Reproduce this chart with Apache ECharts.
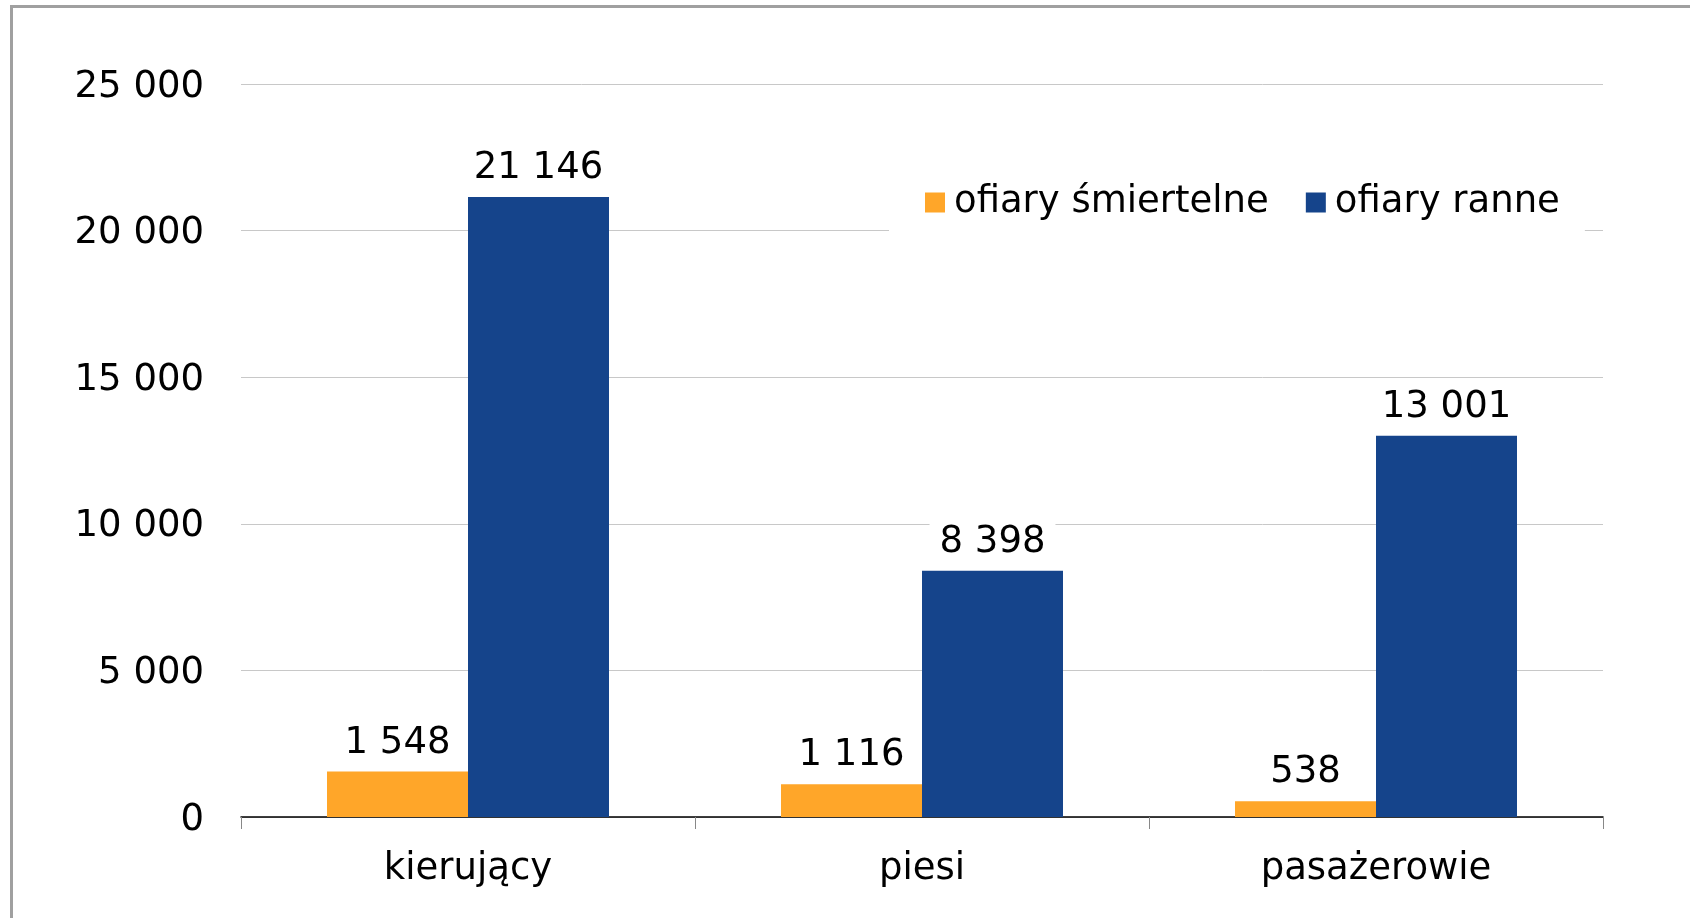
<!DOCTYPE html>
<html>
<head>
<meta charset="utf-8">
<script src="https://cdn.jsdelivr.net/npm/echarts@6/dist/echarts.min.js"></script>
<style>
html,body{margin:0;padding:0;background:#fff;}
#chart{width:1690px;height:918px;}
</style>
</head>
<body>
<div id="chart"></div>
<script>
const categories = ['kierujący', 'piesi', 'pasażerowie'];
const seriesNames = ['ofiary śmiertelne', 'ofiary ranne'];
const fatalities = [1548, 1116, 538];
const injured = [21146, 8398, 13001];
const yTicks = { min: 0, max: 25000, interval: 5000 };

function fmt(v) {
  return String(v).replace(/\B(?=(\d{3})+(?!\d))/g, ' ');
}

const FONT = 'DejaVu Sans';
const chart = echarts.init(document.getElementById('chart'));
const labelCfg = {
  show: true,
  position: 'top',
  distance: 10,
  formatter: p => fmt(p.value),
  fontFamily: FONT,
  fontSize: 37,
  color: '#000',
  backgroundColor: '#fff',
  padding: [0, 10, 0, 10]
};
chart.setOption({
  animation: false,
  backgroundColor: '#fff',
  textStyle: { fontFamily: FONT },
  graphic: [{
    type: 'rect',
    shape: { x: 11.5, y: 6.5, width: 1800, height: 1000 },
    style: { fill: 'none', stroke: '#a0a0a0', lineWidth: 3 },
    z: 100
  }],
  grid: { left: 241, right: 87, top: 84, bottom: 101, containLabel: false },
  legend: {
    data: seriesNames,
    left: 889,
    top: 176,
    icon: 'rect',
    itemWidth: 20,
    itemHeight: 20,
    itemGap: 37,
    padding: [8, 25, 24, 36],
    backgroundColor: '#fff',
    textStyle: { fontFamily: FONT, fontSize: 37, color: '#000', padding: [0, 0, 0, 4] },
    z: 10
  },
  xAxis: {
    type: 'category',
    data: categories,
    axisLine: { lineStyle: { color: '#000', width: 1.5 } },
    axisTick: { show: true, length: 12, lineStyle: { color: '#888', width: 1 } },
    axisLabel: { fontFamily: FONT, fontSize: 37, color: '#000', margin: 34 },
    splitLine: { show: false }
  },
  yAxis: {
    type: 'value',
    min: yTicks.min,
    max: yTicks.max,
    interval: yTicks.interval,
    axisLine: { show: false },
    axisTick: { show: false },
    axisLabel: {
      fontFamily: FONT, fontSize: 37, color: '#000', margin: 37,
      formatter: v => '{a|' + fmt(v) + '}',
      rich: { a: { fontFamily: FONT, fontSize: 37, color: '#000', padding: [6, 0, 0, 0] } }
    },
    splitLine: { lineStyle: { color: '#c8c8c8', width: 1 } }
  },
  series: [
    {
      name: seriesNames[0],
      type: 'bar',
      data: fatalities,
      barWidth: 141,
      barGap: '0%',
      itemStyle: { color: '#FFA629' },
      label: labelCfg,
      z: 3
    },
    {
      name: seriesNames[1],
      type: 'bar',
      data: injured,
      barWidth: 141,
      barGap: '0%',
      itemStyle: { color: '#15448B' },
      label: labelCfg,
      z: 3
    }
  ]
});
</script>
</body>
</html>
